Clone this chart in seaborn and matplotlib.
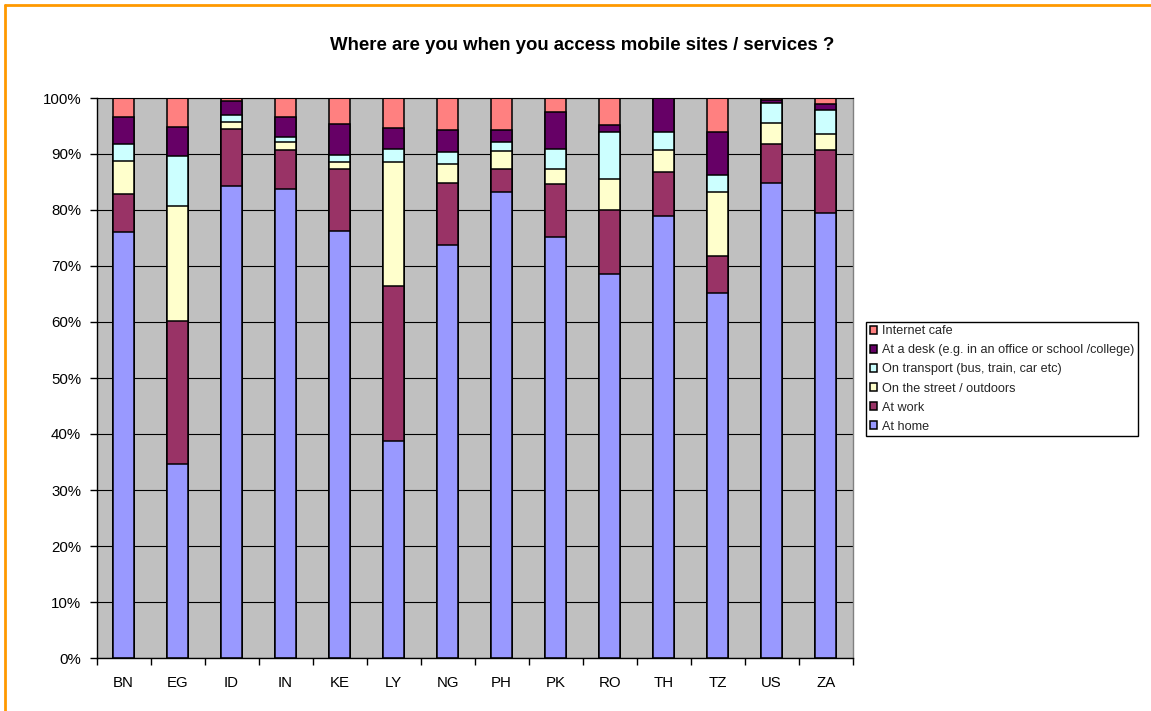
import numpy as np
import pandas as pd
import matplotlib
matplotlib.use("Agg")
import matplotlib.pyplot as plt
from matplotlib.lines import Line2D
import seaborn as sns

# Share of respondents (%) by place of access, per country
countries = ["BN", "EG", "ID", "IN", "KE", "LY", "NG", "PH", "PK", "RO", "TH", "TZ", "US", "ZA"]
at_home = [76.0, 34.6, 84.2, 83.7, 76.2, 38.8, 73.7, 83.15, 75.2, 68.5, 78.9, 65.1, 84.8, 79.4]
at_work = [6.9, 25.6, 10.2, 6.95, 11.1, 27.7, 11.1, 4.15, 9.4, 11.5, 7.95, 6.6, 7.0, 11.4]
on_street = [5.9, 20.5, 1.4, 1.45, 1.27, 22.1, 3.5, 3.2, 2.7, 5.5, 3.95, 11.6, 3.8, 2.8]
on_transport = [2.9, 9.0, 1.2, 1.0, 1.33, 2.3, 2.06, 1.7, 3.65, 8.4, 3.1, 2.95, 3.45, 4.3]
at_desk = [4.9, 5.2, 2.5, 3.45, 5.4, 3.7, 4.0, 2.1, 6.5, 1.3, 6.1, 7.65, 0.65, 1.07]
internet_cafe = [3.4, 5.1, 0.5, 3.45, 4.7, 5.4, 5.64, 5.7, 2.55, 4.8, 0.0, 6.1, 0.3, 1.03]

series_names = [
    "At home",
    "At work",
    "On the street / outdoors",
    "On transport (bus, train, car etc)",
    "At a desk (e.g. in an office or school /college)",
    "Internet cafe",
]
series_colors = ["#9999FF", "#993366", "#FFFFCC", "#CCFFFF", "#660066", "#FF8080"]
y_ticks = [0, 10, 20, 30, 40, 50, 60, 70, 80, 90, 100]
title = "Where are you when you access mobile sites / services ?"

sns.set_theme(style="white")
plt.rcParams["font.family"] = ["Liberation Sans", "DejaVu Sans"]

fig = plt.figure(figsize=(11.51, 7.11), dpi=100)
fig.patch.set_facecolor("white")
ax = fig.add_axes([96.5 / 1151, 1 - 658 / 711, (852.7 - 96.5) / 1151, (658 - 98) / 711])
ax.set_facecolor("#C0C0C0")

# Stacked columns: draw cumulative totals from the top layer down
layers = np.array([at_home, at_work, on_street, on_transport, at_desk, internet_cafe])
tops = np.cumsum(layers, axis=0)
for i in reversed(range(len(series_names))):
    df = pd.DataFrame({"country": countries, "share": tops[i]})
    sns.barplot(
        data=df, x="country", y="share", color=series_colors[i], saturation=1,
        width=0.4, edgecolor="black", linewidth=1.1, errorbar=None,
        label=series_names[i], ax=ax,
    )

ax.set_xlim(-0.5, len(countries) - 0.5)
ax.set_ylim(0, 100)
ax.set_xlabel("")
ax.set_ylabel("")

ax.set_yticks(y_ticks)
ax.set_yticklabels([f"{v}%" for v in y_ticks])
ax.yaxis.grid(True, color="black", linewidth=0.8)
ax.xaxis.grid(False)
ax.set_axisbelow(True)

ax.set_xticks(np.arange(-0.5, len(countries), 1.0), minor=True)
ax.tick_params(axis="y", which="major", left=True, length=5, width=1, color="black",
               direction="out", pad=6, labelsize=10.8, labelcolor="black")
ax.tick_params(axis="x", which="major", bottom=False, length=0, pad=13,
               labelsize=10.8, labelcolor="black")
ax.tick_params(axis="x", which="minor", bottom=True, length=5, width=1,
               color="black", direction="out")

for side in ["left", "bottom"]:
    ax.spines[side].set_color("black")
    ax.spines[side].set_linewidth(1.0)
ax.spines["top"].set_color("black")
ax.spines["top"].set_linewidth(0.8)
ax.spines["right"].set_color("#808080")
ax.spines["right"].set_linewidth(1.0)

fig.text(582 / 1151, 1 - 46 / 711, title, ha="center", va="center",
         fontsize=13.4, fontweight="bold", color="black")

leg = ax.legend(
    loc="center left", bbox_to_anchor=(866 / 1151, 1 - 379 / 711),
    bbox_transform=fig.transFigure, frameon=True, fancybox=False,
    edgecolor="black", facecolor="white", framealpha=1, fontsize=9.1,
    handlelength=0.55, handleheight=0.55, handletextpad=0.4,
    labelspacing=0.56, borderpad=0.3, borderaxespad=0,
)
leg.get_frame().set_linewidth(1.0)

# Orange frame along the left and top of the chart area
x0, y0 = 5 / 1151, 1 - 5 / 711
fig.add_artist(Line2D([x0, x0], [0, y0], transform=fig.transFigure,
                      color="#FF9900", linewidth=2))
fig.add_artist(Line2D([x0, 1], [y0, y0], transform=fig.transFigure,
                      color="#FF9900", linewidth=2))

fig.savefig("out.png", dpi=100)
